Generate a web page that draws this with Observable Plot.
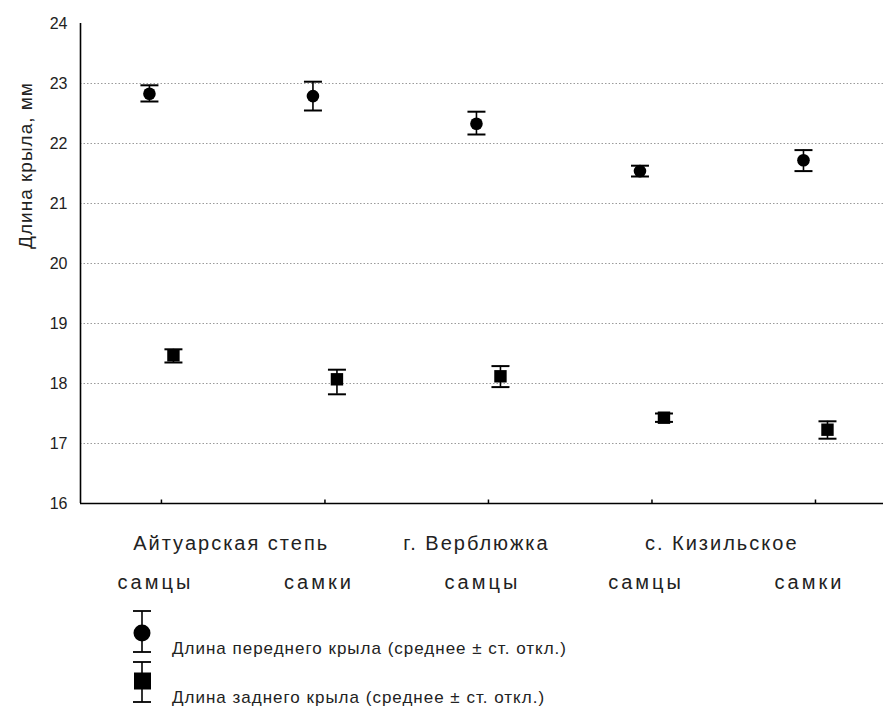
<!DOCTYPE html>
<html><head><meta charset="utf-8">
<script src="https://cdn.jsdelivr.net/npm/d3@7"></script>
<script src="https://cdn.jsdelivr.net/npm/@observablehq/plot@0.6"></script>
<style>
body{margin:0;background:#fff;font-family:"Liberation Sans",Arial,sans-serif;}
#chart svg{display:block;}
</style></head><body><div id="chart"></div><script>
const sexes = ["самцы","самки","самцы","самцы","самки"];
const localities = ["Айтуарская степь","Айтуарская степь","г. Верблюжка","с. Кизильское","с. Кизильское"];
const foreMean = [22.83,22.79,22.33,21.54,21.72];
const foreLo   = [22.70,22.55,22.15,21.45,21.54];
const foreHi   = [22.97,23.03,22.53,21.63,21.89];
const hindMean = [18.47,18.07,18.12,17.43,17.23];
const hindLo   = [18.35,17.82,17.94,17.36,17.08];
const hindHi   = [18.57,18.23,18.29,17.50,17.37];
const yTicks = [16,17,18,19,20,21,22,23,24];
const gridLines = [17,18,19,20,21,22,23];
const seriesNames = ["Длина переднего крыла (среднее ± ст. откл.)","Длина заднего крыла (среднее ± ст. откл.)"];
const yLabel = "Длина крыла, мм";

const xDomain = [0.505, 5.416];
const yDomain = [16, 24];

const fore = sexes.map((s,i)=>({x:i+1, sex:s, mean:foreMean[i], lo:foreLo[i], hi:foreHi[i]}));
const hind = sexes.map((s,i)=>({x:i+1, sex:s, mean:hindMean[i], lo:hindLo[i], hi:hindHi[i]}));
const groups = d3.groups(sexes.map((s,i)=>({loc:localities[i], x:i+1})), d => d.loc)
  .map(([loc, arr]) => ({loc, x: d3.mean(arr, d => d.x)}));

const hcap = {draw(ctx,size){const r=Math.sqrt(size/Math.PI); ctx.moveTo(-r,0); ctx.lineTo(r,0);}};
const vtick = {draw(ctx,size){const r=Math.sqrt(size/Math.PI); ctx.moveTo(0,0); ctx.lineTo(0,-r);}};

function errMarks(data, dx, symbol, r) {
  return [
    Plot.ruleX(data, {x:"x", y1:"lo", y2:"hi", dx, stroke:"#000", strokeWidth:1.6}),
    Plot.dot(data, {x:"x", y:"hi", dx, symbol:hcap, r:9, stroke:"#000", fill:"none", strokeWidth:2}),
    Plot.dot(data, {x:"x", y:"lo", dx, symbol:hcap, r:9, stroke:"#000", fill:"none", strokeWidth:2}),
    Plot.dot(data, {x:"x", y:"mean", dx, symbol, r, fill:"#000", stroke:"none"})
  ];
}

const chart = Plot.plot({
  width: 883, height: 600,
  marginLeft: 80, marginRight: 0, marginTop: 23, marginBottom: 97,
  x: {domain: xDomain, axis: null},
  y: {domain: yDomain, axis: null},
  style: {fontFamily: '"Liberation Sans", Arial, sans-serif', background: "#fff"},
  marks: [
    Plot.ruleY(gridLines, {stroke:"#9a9a9a", strokeWidth:1, strokeDasharray:"1.5,2"}),
    Plot.axisY(yTicks, {tickSize:0, tickPadding:13, fontSize:16, fill:"#222", label:null, tickFormat:"d"}),
    Plot.ruleX([xDomain[0]], {y1: yDomain[0], y2: yDomain[1], stroke:"#000", strokeWidth:1.6}),
    Plot.ruleY([yDomain[0]], {stroke:"#000", strokeWidth:1.6}),
    Plot.dot(fore, {x:"x", y: () => yDomain[0], symbol:vtick, r:4, stroke:"#000", fill:"none", strokeWidth:1.5}),
    ...errMarks(fore, -12, "circle", 6.3),
    ...errMarks(hind, 12, "square", 7),
    Plot.text(groups, {x:"x", text:"loc", frameAnchor:"bottom", dy:46, dx:-12, fontSize:20, fill:"#222"}),
    Plot.text(fore, {x:"x", text:"sex", frameAnchor:"bottom", dy:85, dx:-6, fontSize:20, fill:"#222"}),
    Plot.text([yLabel], {frameAnchor:"top-left", rotate:-90, dx:-62, dy:142, fontSize:19, fill:"#222", textAnchor:"middle"})
  ]
});
chart.querySelectorAll("text").forEach(t => {
  const s = t.textContent;
  if (localities.includes(s)) t.setAttribute("letter-spacing", "2px");
  else if (sexes.includes(s)) t.setAttribute("letter-spacing", "3px");
  else if (s === yLabel) t.setAttribute("letter-spacing", "1px");
});
document.getElementById("chart").appendChild(chart);

// legend
const leg = d3.create("svg").attr("width", 883).attr("height", 109)
  .style("display","block").style("font-family",'"Liberation Sans", Arial, sans-serif');
const rows = [
  {name: seriesNames[0], top: 11, bot: 52, mid: 33, shape: "circle", ty: 48},
  {name: seriesNames[1], top: 62, bot: 102, mid: 81, shape: "square", ty: 97}
];
rows.forEach(r => {
  const g = leg.append("g");
  g.append("line").attr("x1",142).attr("x2",142).attr("y1",r.top).attr("y2",r.bot).attr("stroke","#000").attr("stroke-width",1.6);
  [r.top, r.bot].forEach(y => g.append("line").attr("x1",133).attr("x2",151).attr("y1",y).attr("y2",y).attr("stroke","#000").attr("stroke-width",1.8));
  if (r.shape === "circle") g.append("circle").attr("cx",142).attr("cy",r.mid).attr("r",8.5).attr("fill","#000");
  else g.append("rect").attr("x",134).attr("y",r.mid-8.5).attr("width",17).attr("height",17).attr("fill","#000");
  g.append("text").attr("x",172).attr("y",r.ty).attr("dy","0.35em").attr("font-size",17).attr("fill","#222")
    .attr("letter-spacing","1px").text(r.name);
});
document.getElementById("chart").appendChild(leg.node());
</script></body></html>
